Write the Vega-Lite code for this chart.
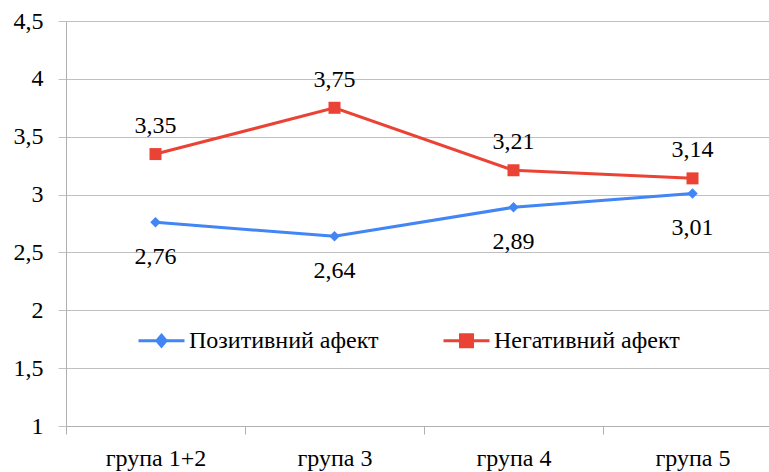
{
  "$schema": "https://vega.github.io/schema/vega-lite/v6.json",
  "width": 703,
  "height": 405,
  "autosize": {"type": "none"},
  "padding": {"left": 66, "top": 21, "right": 0, "bottom": 46},
  "background": "white",
  "config": {
    "view": {"stroke": null},
    "font": "Liberation Serif",
    "locale": {"number": {"decimal": ",", "thousands": " ", "grouping": [3], "currency": ["", ""]}}
  },
  "data": {
    "values": [
      {"group": "група 1+2", "series": "Позитивний афект", "value": 2.76},
      {"group": "група 3", "series": "Позитивний афект", "value": 2.64},
      {"group": "група 4", "series": "Позитивний афект", "value": 2.89},
      {"group": "група 5", "series": "Позитивний афект", "value": 3.01},
      {"group": "група 1+2", "series": "Негативний афект", "value": 3.35},
      {"group": "група 3", "series": "Негативний афект", "value": 3.75},
      {"group": "група 4", "series": "Негативний афект", "value": 3.21},
      {"group": "група 5", "series": "Негативний афект", "value": 3.14}
    ]
  },
  "encoding": {
    "x": {
      "field": "group",
      "type": "nominal",
      "sort": ["група 1+2", "група 3", "група 4", "група 5"],
      "scale": {"type": "band", "range": [0, 716], "paddingInner": 0, "paddingOuter": 0},
      "axis": {
        "title": null,
        "tickBand": "extent",
        "tickSize": 8,
        "labelPadding": 12,
        "labelAngle": 0,
        "labelFontSize": 24,
        "labelColor": "#000000",
        "domainColor": "#b0b0b0",
        "tickColor": "#b0b0b0",
        "grid": false
      }
    },
    "y": {
      "field": "value",
      "type": "quantitative",
      "scale": {"domain": [1, 4.5], "nice": false, "zero": false},
      "axis": {
        "title": null,
        "values": [1, 1.5, 2, 2.5, 3, 3.5, 4, 4.5],
        "format": "~g",
        "grid": true,
        "gridColor": "#c0c0c0",
        "domainColor": "#b0b0b0",
        "tickColor": "#c0c0c0",
        "tickSize": 8,
        "labelPadding": 15,
        "labelFontSize": 24,
        "labelColor": "#000000"
      }
    }
  },
  "layer": [
    {
      "mark": {"type": "line", "strokeWidth": 3},
      "encoding": {
        "color": {
          "field": "series",
          "type": "nominal",
          "scale": {"domain": ["Позитивний афект", "Негативний афект"], "range": ["#4285f4", "#ea4335"]},
          "legend": {
            "title": null,
            "orient": "none",
            "direction": "horizontal",
            "legendX": 71,
            "legendY": 295,
            "labelFontSize": 24,
            "labelColor": "#000000",
            "labelLimit": 400,
            "labelOffset": 3,
            "columnPadding": 58,
            "symbolSize": 2116,
            "symbolStrokeWidth": 3,
            "symbolType": "M-1,0H1",
            "encode": {
              "symbols": {
                "update": {
                  "shape": {"signal": "datum.value === 'Позитивний афект' ? 'M-1,0H1M0,-0.24L0.2,0L0,0.24L-0.2,0Z' : 'M-1,0H1M-0.26,-0.26H0.26V0.26H-0.26Z'"},
                  "fill": {"signal": "datum.value === 'Позитивний афект' ? '#4285f4' : '#ea4335'"},
                  "stroke": {"signal": "datum.value === 'Позитивний афект' ? '#4285f4' : '#ea4335'"},
                  "strokeWidth": {"value": 3},
                  "opacity": {"value": 1}
                }
              }
            }
          }
        }
      }
    },
    {
      "transform": [{"filter": "datum.series === 'Позитивний афект'"}],
      "mark": {"type": "point", "shape": "diamond", "filled": true, "size": 110, "color": "#4285f4", "opacity": 1}
    },
    {
      "transform": [{"filter": "datum.series === 'Негативний афект'"}],
      "mark": {"type": "point", "shape": "square", "filled": true, "size": 144, "color": "#ea4335", "opacity": 1}
    },
    {
      "transform": [{"filter": "datum.series === 'Позитивний афект'"}],
      "mark": {"type": "text", "dy": 42, "baseline": "alphabetic", "fontSize": 24, "color": "#000000"},
      "encoding": {"text": {"field": "value", "type": "quantitative", "format": ".2f"}}
    },
    {
      "transform": [{"filter": "datum.series === 'Негативний афект'"}],
      "mark": {"type": "text", "dy": -21, "baseline": "alphabetic", "fontSize": 24, "color": "#000000"},
      "encoding": {"text": {"field": "value", "type": "quantitative", "format": ".2f"}}
    }
  ]
}
